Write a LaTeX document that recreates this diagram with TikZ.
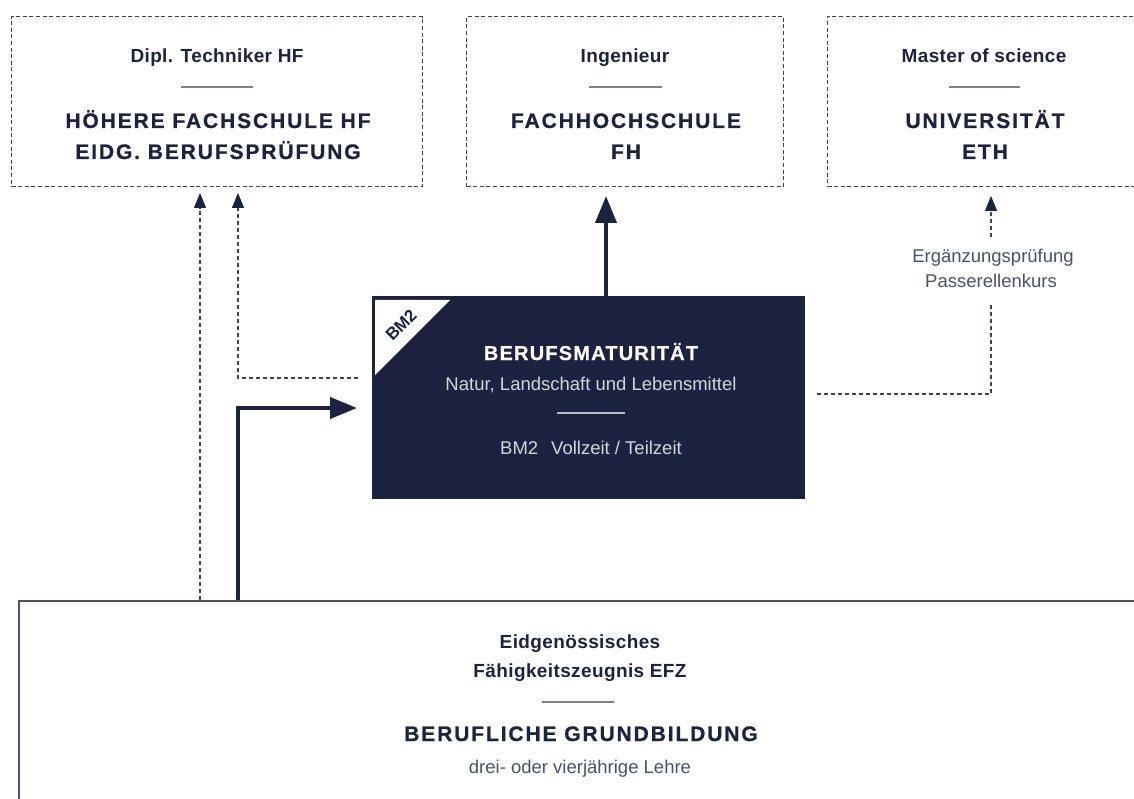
\documentclass[tikz,border=0pt]{standalone}
\usepackage{fontspec}
\setmainfont{Liberation Sans}
\newfontfamily\ttlfont{Liberation Sans}[LetterSpace=9, BoldFeatures={FakeBold=0.8}]
\newfontfamily\bmfont{Liberation Sans}[LetterSpace=6, BoldFeatures={FakeBold=0.6}]
\newfontfamily\subfont{Liberation Sans}[LetterSpace=2]
\usetikzlibrary{arrows.meta}
\definecolor{navy}{HTML}{1C2340}
\definecolor{dashc}{HTML}{3B4262}
\definecolor{sepc}{HTML}{7B8096}
\definecolor{framec}{HTML}{4B5169}
\definecolor{greytext}{HTML}{4B5169}
\definecolor{bmsub}{HTML}{D3D5DE}
\definecolor{bmsep}{HTML}{B8BCC8}
\begin{document}
\begin{tikzpicture}[x=1pt,y=-1pt,
  dbox/.style={draw=dashc, line width=1.2pt, dash pattern=on 4pt off 2.6pt, anchor=north west, minimum height=170pt, inner sep=0pt},
  subt/.style={anchor=base, inner sep=0pt, text=navy, font=\subfont\bfseries\fontsize{19}{21}\selectfont},
  ttl/.style={anchor=base, inner sep=0pt, text=navy, font=\ttlfont\bfseries\fontsize{21}{24}\selectfont},
  reg/.style={anchor=base, inner sep=0pt, text=greytext, font=\fontsize{18.5}{21}\selectfont},
  sepline/.style={draw=sepc, line width=1.6pt},
  dline/.style={draw=dashc, line width=1.3pt, dash pattern=on 4pt off 3pt},
  dconn/.style={dline, -{Triangle[length=15pt,width=12pt,color=navy]}},
  tconn/.style={draw=navy, line width=4pt, line join=miter, -{Triangle[length=27pt,width=21pt]}}
]
\useasboundingbox (0,0) rectangle (1134,799);
\clip (0,0) rectangle (1134,799);

% boxes
\node[dbox, minimum width=411pt] (hf) at (11,16) {};
\node[dbox, minimum width=317pt] (fh) at (466,16) {};
\node[dbox, minimum width=322pt] (eth) at (827,16) {};
\node[anchor=north west, draw=framec, line width=1.6pt, minimum width=1124pt, minimum height=240pt, inner sep=0pt] (efz) at (18,600) {};
\node[anchor=north west, fill=navy, minimum width=433pt, minimum height=203pt, inner sep=0pt] (bm) at (372,296) {};
\fill[white] (375,300) -- (450,300) -- (375,375) -- cycle;
\node[rotate=45, inner sep=0pt, text=navy, font=\bfseries\fontsize{17}{19}\selectfont] (bmtag) at (401,325) {BM2};

% box 1
\node[subt] (hfsub) at (217,63) {Dipl. Techniker HF};
\draw[sepline] (181,87) -- (253,87);
\node[ttl] (hft1) at (218,128) {HÖHERE FACHSCHULE HF};
\node[ttl] (hft2) at (218,159) {EIDG. BERUFSPRÜFUNG};

% box 2
\node[subt] (fhsub) at (625,63) {Ingenieur};
\draw[sepline] (589,87) -- (662,87);
\node[ttl] (fht1) at (626,128) {FACHHOCHSCHULE};
\node[ttl] (fht2) at (626,159) {FH};

% box 3
\node[subt] (ethsub) at (984,63) {Master of science};
\draw[sepline] (949,87) -- (1020,87);
\node[ttl] (etht1) at (985,128) {UNIVERSITÄT};
\node[ttl] (etht2) at (985,159) {ETH};

% BM box
\node[anchor=base, inner sep=0pt, text=white, font=\bmfont\bfseries\fontsize{20}{22}\selectfont] (bmt) at (591,360) {BERUFSMATURITÄT};
\node[anchor=base, inner sep=0pt, text=bmsub, font=\fontsize{18.5}{21}\selectfont] (bmsub) at (591,390) {Natur, Landschaft und Lebensmittel};
\draw[draw=bmsep, line width=1.5pt] (557,413) -- (625,413);
\node[anchor=base, inner sep=0pt, text=bmsub, font=\fontsize{18.5}{21}\selectfont] (bmmode) at (591,454) {BM2\hspace{0.7em}Vollzeit / Teilzeit};

% bottom box
\node[subt] (efz1) at (580,648) {Eidgenössisches};
\node[subt] (efz2) at (580,677) {Fähigkeitszeugnis EFZ};
\draw[sepline] (542,702) -- (614,702);
\node[ttl] (efzt) at (581,741) {BERUFLICHE GRUNDBILDUNG};
\node[reg] (efzr) at (580,773) {drei- oder vierjährige Lehre};

% right labels
\node[reg] (erg1) at (993,263) {Ergänzungsprüfung};
\node[reg] (erg2) at (991,288) {Passerellenkurs};

% connectors
\coordinate (t1) at (200,193);
\draw[dconn] (t1 |- efz.north) -- (t1);
\coordinate (s2) at (358,378);
\coordinate (t2) at (238,193);
\draw[dconn] (s2) -| (t2);
\coordinate (s3) at (238,600);
\coordinate (t3) at (357,408);
\draw[tconn] (s3) |- (t3);
\coordinate (t4) at (606,196);
\draw[tconn] (t4 |- bm.north) -- (t4);
\coordinate (s5) at (817,394);
\coordinate (e5) at (991,303);
\draw[dline] (s5) -| (e5);
\coordinate (s6) at (991,237);
\coordinate (t6) at (991,196);
\draw[dconn] (s6) -- (t6);
\end{tikzpicture}
\end{document}
